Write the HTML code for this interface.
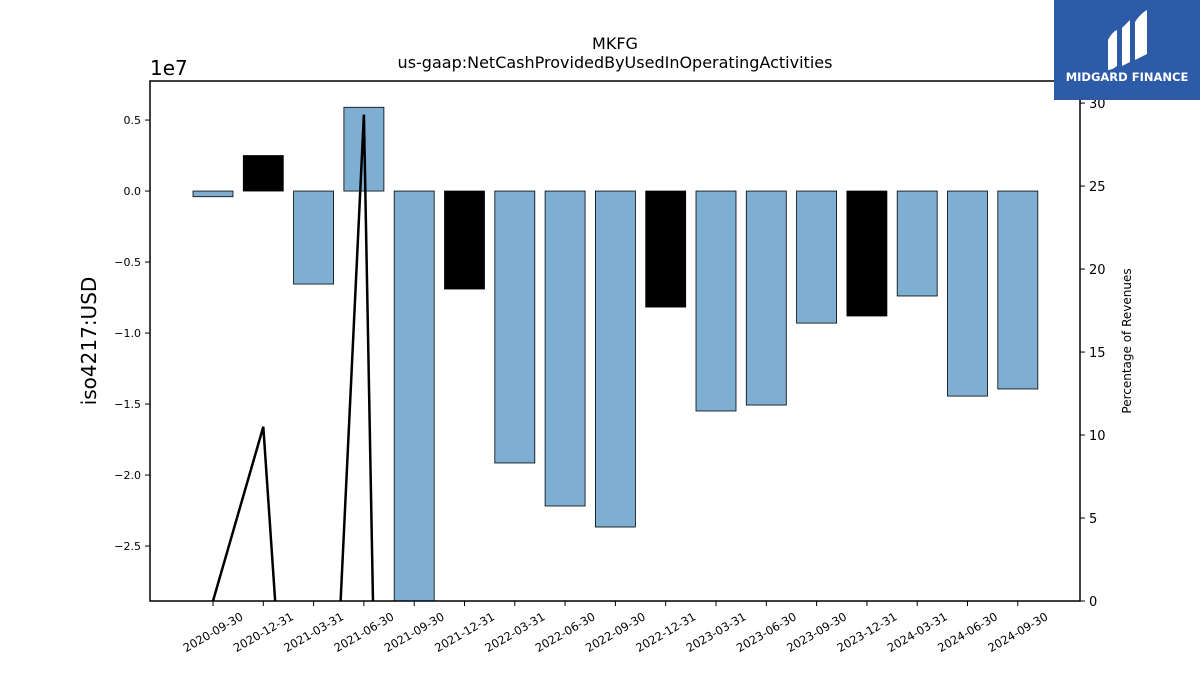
<!DOCTYPE html>
<html><head><meta charset="utf-8">
<style>
html,body{margin:0;padding:0;background:#fff;width:1200px;height:675px;overflow:hidden;}
svg{display:block;font-family:"DejaVu Sans","Liberation Sans",sans-serif;}
</style></head>
<body>
<svg id="chart" width="1200" height="675" viewBox="0 0 1200 675">
  <text x="615" y="49" text-anchor="middle" font-size="16">MKFG</text>
  <text x="615" y="68" text-anchor="middle" font-size="16">us-gaap:NetCashProvidedByUsedInOperatingActivities</text>
  <text x="150" y="75" font-size="20">1e7</text>
  <text transform="translate(96,341) rotate(-90)" text-anchor="middle" font-size="20">iso4217:USD</text>
  <text transform="translate(1131,341) rotate(-90)" text-anchor="middle" font-size="12">Percentage of Revenues</text>
  <g id="bars"></g>
  <g id="ticks"></g>
  <g id="line"></g>
  <rect x="150" y="81" width="930" height="520" fill="none" stroke="#000" stroke-width="1.5"/>
  <g>
    <rect x="1054" y="0" width="146" height="100" fill="#2d5ba8"/>
    <path d="M1108 70 L1108 40 Q1112 32 1117 30 L1117 66 Q1112 70 1108 70Z M1122 66 L1122 28 L1130 20 L1130 62Z M1135 60 L1135 22 Q1140 14 1147 10 L1147 54Z" fill="#fff"/>
    <text x="1127" y="81" text-anchor="middle" font-size="11.5" font-weight="bold" fill="#fff">MIDGARD FINANCE</text>
  </g>
</svg>
<script>
const categories=["2020-09-30","2020-12-31","2021-03-31","2021-06-30","2021-09-30","2021-12-31","2022-03-31","2022-06-30","2022-09-30","2022-12-31","2023-03-31","2023-06-30","2023-09-30","2023-12-31","2024-03-31","2024-06-30","2024-09-30"];
const cashValues=[-400000,2500000,-6550000,5900000,-29500000,-6900000,-19150000,-22180000,-23660000,-8170000,-15490000,-15070000,-9300000,-8800000,-7390000,-14440000,-13940000];
const isAnnual=[false,true,false,false,false,true,false,false,false,true,false,false,false,true,false,false,false];
const pctValues=[0,10.5,-34,29.3,-133,null,null,null,null,null,null,null,null,null,null,null,null];
const leftTicks=[0.5,0.0,-0.5,-1.0,-1.5,-2.0,-2.5];
const rightTicks=[0,5,10,15,20,25,30];

const NS="http://www.w3.org/2000/svg";
const X0=150,X1=1080,Y0=81,Y1=601;
const yMin=-2.887e7,yMax=0.775e7, rMin=0,rMax=31.33;
const step=50.3, first=213;
function xPos(i){return first+i*step;}
function yL(v){return Y1-(v-yMin)/(yMax-yMin)*(Y1-Y0);}
function yR(v){return Y1-(v-rMin)/(rMax-rMin)*(Y1-Y0);}
function mk(t,a,p){const e=document.createElementNS(NS,t);for(const k in a)e.setAttribute(k,a[k]);p.appendChild(e);return e;}

const bars=document.getElementById('bars');
categories.forEach((c,i)=>{
  const v=cashValues[i];
  const y0=yL(0), yv=Math.max(Y0,Math.min(Y1,yL(v)));
  const r=mk('rect',{x:xPos(i)-20,y:Math.min(y0,yv),width:40,height:Math.abs(yv-y0),fill:isAnnual[i]?'#000':'#7eafd3',stroke:'#000','stroke-width':0.8},bars);
  
  
});

const ticks=document.getElementById('ticks');
leftTicks.forEach(t=>{
  const y=yL(t*1e7);
  mk('line',{x1:X0-5,x2:X0,y1:y,y2:y,stroke:'#000'},ticks);
  const tx=mk('text',{x:X0-9,y:y+4,'text-anchor':'end','font-size':11},ticks);
  tx.textContent=(t<0?'\u2212':'')+Math.abs(t).toFixed(1);
  
  
});
rightTicks.forEach(t=>{
  const y=yR(t);
  mk('line',{x1:X1,x2:X1+5,y1:y,y2:y,stroke:'#000'},ticks);
  const tx=mk('text',{x:X1+9,y:y+5,'font-size':13},ticks);
  tx.textContent=t;
  
  
});
categories.forEach((c,i)=>{
  const x=xPos(i);
  mk('line',{x1:x,x2:x,y1:Y1,y2:Y1+5,stroke:'#000'},ticks);
  const tx=mk('text',{transform:`translate(${x+31},${Y1+18}) rotate(-30)`,'text-anchor':'end','font-size':11.5},ticks);
  tx.textContent=c;
  
  
});

const lg=document.getElementById('line');
mk('clipPath',{id:'clip'},lg).appendChild(document.createElementNS(NS,'rect'));
const cr=lg.querySelector('clipPath rect');cr.setAttribute('x',X0);cr.setAttribute('y',Y0);cr.setAttribute('width',X1-X0);cr.setAttribute('height',Y1-Y0);
let d='',pen=false;
pctValues.forEach((v,i)=>{
  if(v===null){pen=false;return;}
  d+=(pen?'L':'M')+xPos(i)+' '+yR(v)+' ';pen=true;
});
const p=mk('path',{d:d,fill:'none',stroke:'#000','stroke-width':2.5,'clip-path':'url(#clip)'},lg);


</script>
</body></html>
